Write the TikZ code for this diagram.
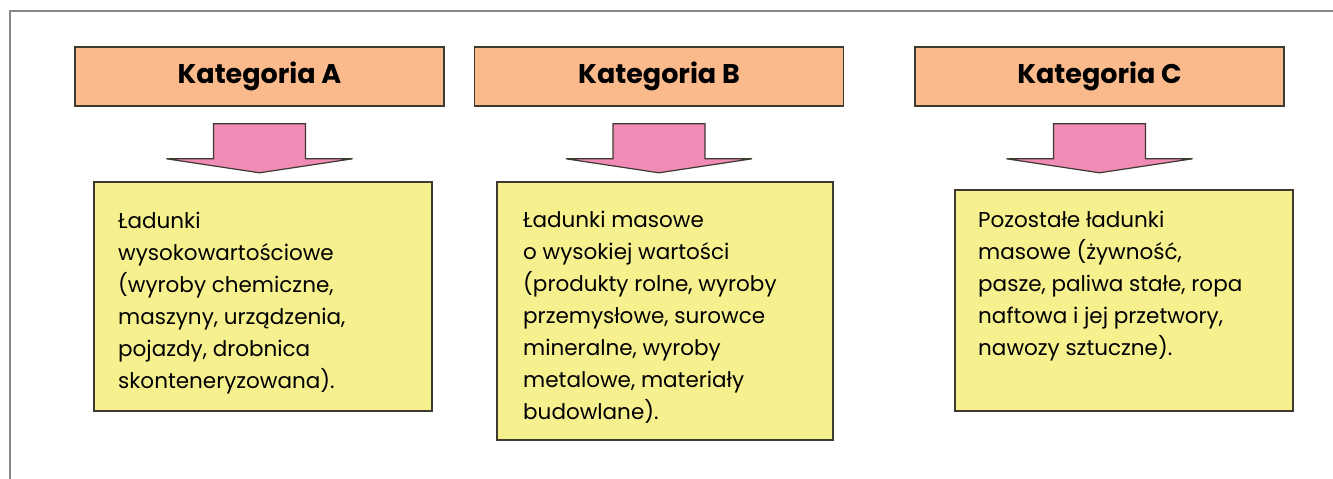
\documentclass[tikz,border=0pt]{standalone}
\usepackage{fontspec}
\setmainfont{Poppins}
\usetikzlibrary{positioning,calc}

\definecolor{pomarancz}{HTML}{FBBA8C}
\definecolor{rozowy}{HTML}{EF8BB5}
\definecolor{zolty}{HTML}{F6F08E}
\definecolor{obwod}{HTML}{3E3A30}
\definecolor{szary}{HTML}{888888}

\begin{document}
\begin{tikzpicture}[x=1pt,y=-1pt,
    kategoria/.style={draw=obwod,line width=1.6pt,fill=pomarancz,minimum width=369pt,minimum height=59pt,
        font=\fontsize{27}{30}\selectfont\bfseries},
    opis/.style={draw=obwod,line width=1.6pt,fill=zolty,anchor=north west,inner sep=0pt},
    tekst/.style={anchor=base west,inner sep=0pt,align=left,font=\fontsize{21.5}{32}\selectfont},
    strzalka/.style={draw=obwod,line width=1.2pt,fill=rozowy,line join=miter}]
    \useasboundingbox (0,0) rectangle (1333,479);
    % ramka
    \draw[szary,line width=1.2pt] (10,479) -- (10,11) -- (1333,11);
    % naglowki
    \node[kategoria] (katA) at (259.5,76.5) {Kategoria A};
    \node[kategoria] (katB) at (659,76.5)   {Kategoria B};
    \node[kategoria] (katC) at (1099.5,76.5) {Kategoria C};
    % strzalki
    \foreach \n in {A,B,C}
        \draw[strzalka] ($(kat\n.south)+(-46,17)$) -- ++(0,35) -- ++(-47,0) -- ++(93,14)
            -- ++(93,-14) -- ++(-47,0) -- ++(0,-35) -- cycle;
    % opisy
    \node[opis,minimum width=338pt,minimum height=229pt] (opisA) at (93,181) {};
    \node[opis,minimum width=336pt,minimum height=258pt] (opisB) at (496,181) {};
    \node[opis,minimum width=338pt,minimum height=221pt] (opisC) at (954,189) {};
    % base = ostatnia linia
    \node[tekst] (tekstA) at ($(opisA.north west)+(25,207)$)
        {Ładunki\\wysokowartościowe\\(wyroby chemiczne,\\maszyny, urządzenia,\\pojazdy, drobnica\\skonteneryzowana).};
    \node[tekst] (tekstB) at ($(opisB.north west)+(27,238)$)
        {Ładunki masowe\\o wysokiej wartości\\(produkty rolne, wyroby\\przemysłowe, surowce\\mineralne, wyroby\\metalowe, materiały\\budowlane).};
    \node[tekst] (tekstC) at ($(opisC.north west)+(24,166)$)
        {Pozostałe ładunki\\masowe (żywność,\\pasze, paliwa stałe, ropa\\naftowa i jej przetwory,\\nawozy sztuczne).};
\end{tikzpicture}
\end{document}
